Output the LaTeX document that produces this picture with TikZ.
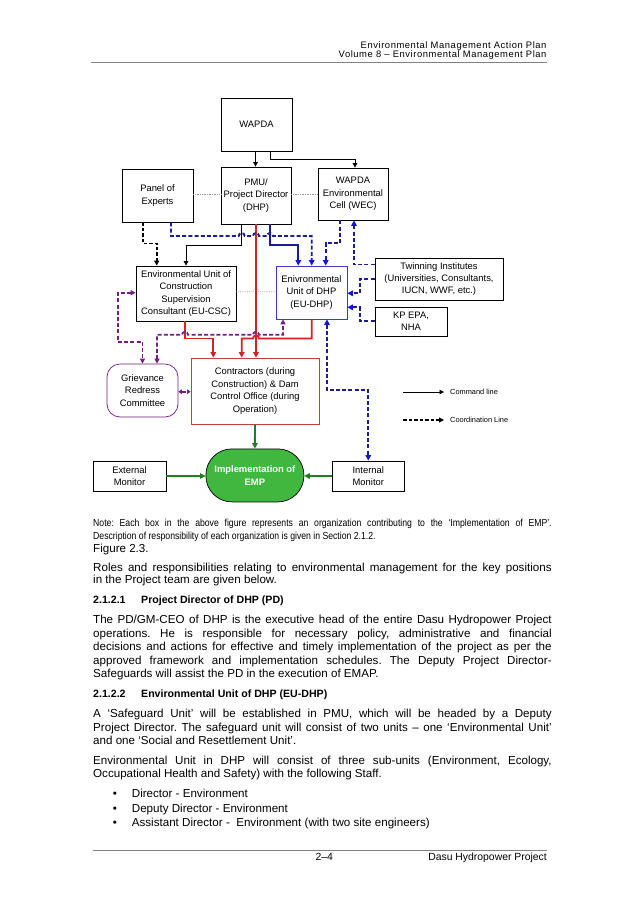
\documentclass[tikz,border=0pt]{standalone}
\usepackage{fontspec}
\setmainfont{Liberation Sans}
\newfontfamily\narrowfont[FakeStretch=0.85]{Liberation Sans}
\newfontfamily\hdrfont[LetterSpace=6]{Liberation Sans}
\usetikzlibrary{arrows.meta}
\definecolor{navy}{RGB}{28,28,150}
\definecolor{tipblue}{RGB}{20,20,225}
\definecolor{purp}{RGB}{115,30,130}
\definecolor{redl}{RGB}{214,34,34}
\definecolor{redbox}{RGB}{200,60,60}
\definecolor{grn}{RGB}{32,125,32}
\definecolor{fillgrn}{RGB}{64,184,64}
\definecolor{dhpblue}{RGB}{60,60,200}
\definecolor{rulegray}{RGB}{130,130,130}
\definecolor{dotgray}{RGB}{150,150,150}
\definecolor{lav}{RGB}{160,160,225}
\tikzset{
  org/.style={draw=black,line width=0.7pt,inner sep=1pt,align=center,
    font=\fontsize{9.4}{12.4}\selectfont},
  sz/.style 2 args={minimum width=#1,minimum height=#2},
  cmdtip/.tip={Triangle[length=4.5pt,width=4.5pt]},
  crdtip/.tip={Triangle[length=5pt,width=5pt]},
  bltip/.tip={Triangle[length=5.5pt,width=5.5pt,color=tipblue]},
  rdtip/.tip={Triangle[length=5.5pt,width=5.5pt]},
  pptip/.tip={Triangle[length=5pt,width=5pt]},
  ppsmall/.tip={Triangle[length=3.5pt,width=4.5pt]},
  grtip/.tip={Triangle[length=5.5pt,width=5.5pt]},
  cmd/.style={draw=black,line width=0.7pt},
  crd/.style={draw=black,line width=1.6pt,dash pattern=on 3.5pt off 2pt},
  bl/.style={draw=navy,line width=1.9pt,dash pattern=on 4pt off 2.2pt},
  blsolid/.style={draw=navy,line width=1.9pt},
  rd/.style={draw=redl,line width=1.9pt},
  pp/.style={draw=purp,line width=1.8pt,dash pattern=on 4pt off 2.2pt},
  gr/.style={draw=grn,line width=1.9pt},
  legend/.style={font=\fontsize{7.4}{9}\selectfont,inner sep=0pt,anchor=west},
  body/.style={font=\fontsize{11.6}{13.6}\selectfont,inner sep=0pt,anchor=base west},
  head/.style={font=\fontsize{10.6}{12}\selectfont\bfseries,inner sep=0pt,anchor=base west},
  hdr/.style={font=\fontsize{10.4}{12}\selectfont,inner sep=0pt,anchor=base east},
  hdrs/.style={font=\fontsize{9.4}{11}\hdrfont,inner sep=0pt,anchor=base east},
  note/.style={font=\fontsize{10.2}{12}\narrowfont,inner sep=0pt,anchor=base west},
}
\newcommand\jbox[1]{\hbox to 458.5pt{#1}}
\begin{document}
\frenchspacing
\begin{tikzpicture}[x=1pt,y=-1pt]
\useasboundingbox (0,0) rectangle (638,903);
\fill[white] (0,0) rectangle (638,903);

% ---------- header ----------
\node[hdrs] (h1) at (546.7,48) {Environmental Management Action Plan};
\node[hdrs] (h2) at (546.7,57.5) {Volume 8 – Environmental Management Plan};
\draw[rulegray,line width=0.8pt] (h2.base east |- 0,62) -- (91,62);

% ---------- boxes ----------
\node[org,sz={71pt}{53pt}] (wapda) at (256.5,124.5) {WAPDA};
\node[org,sz={70pt}{57pt}] (pmu) at (256,195.5) {PMU/\\Project Director\\(DHP)};
\node[org,sz={71pt}{53pt}] (panel) at (157.5,195.5) {Panel of\\Experts};
\node[org,sz={70pt}{52pt}] (wec) at (353,194) {WAPDA\\Environmental\\Cell (WEC)};
\node[org,sz={100pt}{55pt}] (eucsc) at (186,293.5) {Environmental Unit of\\Construction\\Supervision\\Consultant (EU-CSC)};
\node[org,draw=dhpblue,sz={71pt}{53pt}] (eudhp) at (311.5,292.5) {Enivronmental\\Unit of DHP\\(EU-DHP)};
\node[org,sz={128pt}{42pt}] (twin) at (439,279) {Twinning Institutes\\(Universities, Consultants,\\IUCN, WWF, etc.)};
\node[org,sz={72pt}{29pt}] (kp) at (411,321.5) {KP EPA,\\NHA};
\node[org,draw=purp,rounded corners=13pt,sz={71pt}{53pt}] (grc) at (142.5,390.5) {Grievance\\Redress\\Committee};
\node[org,draw=redbox,sz={128pt}{66pt}] (con) at (255,391) {Contractors (during\\Construction) \& Dam\\Control Office (during\\Operation)};
\node[org,fill=fillgrn,rounded corners=26pt,sz={98pt}{53pt},text=white,font=\fontsize{9.4}{12.4}\selectfont\bfseries] (impl) at (254.9,475.4) {Implementation of\\EMP};
\node[org,sz={73pt}{30pt}] (ext) at (129.5,476) {External\\Monitor};
\node[org,sz={72pt}{30pt}] (int) at (368.3,476) {Internal\\Monitor};

% ---------- command lines (black) ----------
\draw[cmd,-cmdtip] (255.5,0 |- wapda.south) -- (255.5,0 |- pmu.north);
\draw[cmd,-cmdtip] (270.5,0 |- wapda.south) -- (270.5,159) -| (355,0 |- wec.north);
\draw[cmd,-cmdtip] (241.7,0 |- pmu.south) -- (241.7,245) -| (eucsc.north);

% dotted links
\draw[dotgray,densely dotted,line width=0.7pt] (panel.east |- 0,194.3) -- (pmu.west |- 0,194.3);
\draw[dotgray,densely dotted,line width=0.7pt] (pmu.east |- 0,194.3) -- (wec.west |- 0,194.3);
\draw[lav,densely dotted,line width=0.8pt] (eucsc.east |- 0,291.7) -- (253,291.7)
   arc[start angle=180,end angle=0,radius=3pt] -- (eudhp.west |- 0,291.7);

% black coordination
\draw[crd,-crdtip] (142.7,0 |- panel.south) -- (142.7,243.3) -| (156.7,0 |- eucsc.north);

% ---------- red ----------
\draw[rd,-rdtip] (256,0 |- pmu.south) -- (256,0 |- con.north);
\draw[rd,-rdtip] (185,0 |- eucsc.south) -- (185,338.5) -| (213.3,0 |- con.north);
\draw[rd,-rdtip] (311.7,0 |- eudhp.south) -- (311.7,338.5) -- (259,338.5)
   arc[start angle=0,end angle=180,radius=3pt] -- (241.7,338.5) -- (241.7,0 |- con.north);

% ---------- blue ----------
\draw[bl,-bltip] (171,0 |- panel.south) -- (171,236) -- (238.7,236)
   arc[start angle=180,end angle=0,radius=3pt] -- (253,236)
   arc[start angle=180,end angle=0,radius=3pt] -- (267,236)
   arc[start angle=180,end angle=0,radius=3pt] -- (311.7,236) -- (311.7,0 |- eudhp.north);
\draw[blsolid,-bltip] (270,0 |- pmu.south) -- (270,245) -| (298.3,0 |- eudhp.north);
\draw[bl,-bltip] (340,0 |- wec.south) -- (340,243.3) -| (325.7,0 |- eudhp.north);
\draw[bl,-bltip] (twin.west |- 0,264.5) -| (354,0 |- wec.south);
\draw[bl,-bltip] (twin.west |- 0,279) -- (360,279) |- (eudhp.east |- 0,293.3);
\draw[bl,-bltip] (kp.west |- 0,320.7) -- (360,320.7) |- (eudhp.east |- 0,307.3);
\draw[bl,bltip-bltip] (327,0 |- eudhp.south) -- (327,390) -| (int.north);

% ---------- purple ----------
\draw[pp,pptip-pptip] (eucsc.west |- 0,292.7) -- (118,292.7) -- (118,341.7) -| (142.5,0 |- grc.north);
\draw[pp,pptip-pptip] (157,0 |- grc.north) -- (157,334.8) -- (182,334.8)
   arc[start angle=180,end angle=0,radius=3pt] -- (253,334.8)
   arc[start angle=180,end angle=0,radius=3pt] -- (283,334.8) -- (283,0 |- eudhp.south);
\draw[pp,ppsmall-ppsmall] (grc.east |- 0,391.7) -- (con.west |- 0,391.7);

% ---------- green ----------
\draw[gr,-grtip] (con.south) -- (impl.north);
\draw[gr,-grtip] (ext.east) -- (ext.east -| impl.west);
\draw[gr,-grtip] (int.west) -- (int.west -| impl.east);

% ---------- legend ----------
\node[legend] (lcmd) at (450,392) {Command line};
\node[legend] (lcrd) at (450,420) {Coordination Line};
\coordinate (lc1) at (403,392);
\coordinate (lc2) at (403,420);
\draw[cmd,-cmdtip] (lc1) -- ([xshift=-6pt]lcmd.west);
\draw[crd,-crdtip] (lc2) -- ([xshift=-6pt]lcrd.west);

% ---------- text below ----------
\node[note] (n1) at (93,526.7) {\jbox{Note: Each box in the above figure represents an organization contributing to the ‘Implementation of EMP’.}};
\node[note] (n2) at (93,539.3) {Description of responsibility of each organization is given in Section 2.1.2.};
\node[body] (fig) at (93,552.7) {Figure 2.3.};
\node[body] (r1) at (93,571.7) {\jbox{Roles and responsibilities relating to environmental management for the key positions}};
\node[body] (r2) at (93,583.5) {in the Project team are given below.};
\node[head] (s1n) at (93,603.3) {2.1.2.1};
\node[head] (s1t) at (141,603.3) {Project Director of DHP (PD)};
\node[body] (p1) at (93,623.3) {\jbox{The PD/GM-CEO of DHP is the executive head of the entire Dasu Hydropower Project}};
\node[body] (p2) at (93,637.0) {\jbox{operations. He is responsible for necessary policy, administrative and financial}};
\node[body] (p3) at (93,650.6) {\jbox{decisions and actions for effective and timely implementation of the project as per the}};
\node[body] (p4) at (93,664.2) {\jbox{approved framework and implementation schedules. The Deputy Project Director-}};
\node[body] (p5) at (93,677.8) {Safeguards will assist the PD in the execution of EMAP.};
\node[head] (s2n) at (93,697.3) {2.1.2.2};
\node[head] (s2t) at (141,697.3) {Environmental Unit of DHP (EU-DHP)};
\node[body] (q1) at (93,717.3) {\jbox{A ‘Safeguard Unit’ will be established in PMU, which will be headed by a Deputy}};
\node[body] (q2) at (93,731.0) {\jbox{Project Director. The safeguard unit will consist of two units – one ‘Environmental Unit’}};
\node[body] (q3) at (93,744.3) {and one ‘Social and Resettlement Unit’.};
\node[body] (u1) at (93,764.0) {\jbox{Environmental Unit in DHP will consist of three sub-units (Environment, Ecology,}};
\node[body] (u2) at (93,777.7) {Occupational Health and Safety) with the following Staff.};
\node[body,anchor=base] (b1) at (115,797.3) {•};
\node[body] (b1t) at (131.7,797.3) {Director - Environment};
\node[body,anchor=base] (b2) at (115,812.0) {•};
\node[body] (b2t) at (131.7,812.0) {Deputy Director - Environment};
\node[body,anchor=base] (b3) at (115,826.3) {•};
\node[body] (b3t) at (131.7,826.3) {Assistant Director -\ \ Environment (with two site engineers)};

% ---------- footer ----------
\draw[rulegray,line width=0.8pt] (93,850) -- (547,850);
\node[hdr,anchor=base] (f1) at (324.2,860.7) {2–4};
\node[hdr] (f2) at (547,860.7) {Dasu Hydropower Project};
\end{tikzpicture}
\end{document}
